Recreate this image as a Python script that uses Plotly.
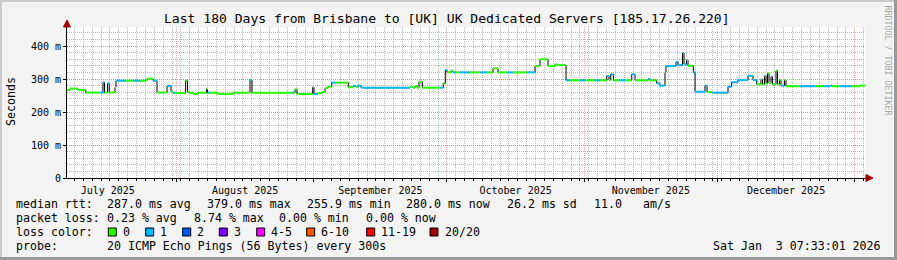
import plotly.graph_objects as go
import pandas as pd

# ---------------- data ----------------
window_start = "2025-07-07 07:33:01"
window_end = "2026-01-03 07:33:01"

# step segments of the median rtt: start (days since window start), value (ms), lost pings
seg_day = [0.00, 0.68, 2.48, 4.22, 7.44, 8.12, 8.46, 9.14, 9.54, 10.83,
           11.05, 13.31, 14.89, 16.47, 18.05, 19.40, 20.30, 22.56, 23.46, 23.91,
           24.36, 26.77, 27.18, 27.52, 28.42, 29.55, 31.47, 31.69, 32.26, 33.83,
           37.44, 41.28, 41.73, 50.75, 51.20, 51.43, 51.88, 55.42, 55.72, 56.62,
           57.52, 58.20, 58.87, 59.71, 60.68, 63.45, 64.51, 65.19, 65.64, 66.32,
           66.77, 77.37, 78.05, 78.50, 78.95, 79.40, 80.14, 84.14, 84.88, 85.33,
           85.71, 86.62, 87.07, 87.74, 88.65, 90.90, 93.16, 94.74, 96.09, 97.22,
           99.25, 100.60, 103.76, 105.56, 106.69, 108.50, 110.08, 110.53, 112.56, 113.46,
           115.72, 116.84, 119.10, 120.23, 121.74, 122.26, 122.64, 123.23, 124.74, 125.87,
           127.38, 128.12, 131.06, 131.50, 133.01, 133.76, 134.89, 135.11, 137.37, 137.82,
           138.83, 139.17, 139.74, 140.08, 141.27, 141.66, 143.91, 144.36, 145.49, 149.10,
           149.93, 151.35, 153.61, 154.74, 155.57, 156.54, 156.88, 157.33, 157.67, 158.01,
           158.35, 158.80, 159.14, 159.93, 160.27, 160.72, 161.06, 161.84, 162.18, 165.34,
           168.72, 170.53, 172.11, 172.56, 174.36, 176.84, 178.87]
seg_ms = [267, 271, 267, 259, 259, 290, 259, 287, 259, 275,
          295, 295, 295, 295, 301, 295, 259, 279, 262, 258,
          257, 295, 261, 258, 254.5, 258.6, 269, 258.6, 258.6, 255,
          258.6, 297, 258.6, 258.6, 258.6, 269, 254.5, 275, 254.5, 257,
          260.6, 272, 277, 289, 289, 275, 279, 275, 280, 274,
          273.7, 276, 273.7, 279, 274, 292, 273.7, 273.7, 287, 327,
          320, 325, 320, 320, 320, 320, 320, 320, 332, 320,
          320, 320, 320, 339, 359.6, 340, 344, 342, 296, 296,
          296, 296, 296, 296, 309, 297, 314, 296, 296, 296,
          314, 296, 300, 296, 287, 280, 320, 339, 352, 342,
          379, 345, 357, 340, 320, 261.6, 280, 260, 258.6, 276.7,
          290, 297, 310, 297, 284, 299, 284, 309, 286, 317,
          288, 307, 284, 325, 284, 296, 280, 297, 278, 278,
          278, 278, 280, 278, 278, 278, 280]
seg_loss = [0, 0, 0, 0, 1, 1, 0, 1, 0, 0,
            1, 0, 1, 0, 0, 1, 0, 1, 0, 1,
            0, 0, 0, 0, 0, 0, 0, 1, 0, 0,
            0, 1, 0, 1, 0, 0, 0, 0, 1, 0,
            0, 0, 0, 1, 0, 0, 1, 0, 1, 1,
            1, 0, 0, 0, 0, 0, 0, 1, 0, 1,
            0, 0, 1, 0, 1, 0, 1, 0, 0, 0,
            1, 0, 1, 0, 0, 0, 0, 0, 1, 0,
            1, 0, 1, 0, 1, 0, 1, 0, 1, 0,
            1, 0, 1, 0, 1, 1, 1, 1, 1, 1,
            1, 1, 0, 0, 1, 1, 1, 0, 1, 1,
            1, 1, 1, 1, 0, 0, 0, 1, 0, 0,
            0, 1, 0, 0, 0, 0, 1, 0, 0, 1,
            0, 1, 1, 0, 1, 0, 0]

loss_labels = ["0", "1", "2", "3", "4-5", "6-10", "11-19", "20/20"]
loss_colors = ["#26ff00", "#00b8ff", "#0059ff", "#7e00ff", "#ff00ff", "#ff5500", "#ff0000", "#a10000"]

y_tick_vals = [0, 100, 200, 300, 400]
y_tick_text = ["0", "100 m", "200 m", "300 m", "400 m"]

title_text = "Last 180 Days from Brisbane to [UK] UK Dedicated Servers [185.17.26.220]"
rtt_stats = [287.0, 379.0, 255.9, 280.0]      # avg, max, min, now (ms)
rtt_sd = 26.2
rtt_amps = 11.0
loss_stats = [0.23, 8.74, 0.00, 0.00]         # avg, max, min, now (%)
probe_text = "20 ICMP Echo Pings (56 Bytes) every 300s"
stamp_text = "Sat Jan  3 07:33:01 2026"

# ---------------- layout constants ----------------
FW, FH = 897, 260
L, R, T, B = 67, 32, 27, 82
W, H = FW - L - R, FH - T - B
MONO = "DejaVu Sans Mono"
NB = "\u00a0"


def px2x(px):
    return (px - L) / W


def py2y(py):
    return (T + H - py) / H


t0 = pd.Timestamp(window_start)
t_end = pd.Timestamp(window_end)
times = [t0 + pd.Timedelta(days=d) for d in seg_day] + [t_end]
vals = seg_ms + [seg_ms[-1]]

fig = go.Figure()

# black step line (transitions)
fig.add_trace(go.Scatter(x=times, y=vals, mode="lines", line=dict(color="#000000", width=1, shape="hv"),
                         hoverinfo="skip"))

# coloured horizontal pieces by loss count
for lvl in sorted(set(seg_loss)):
    xs, ys = [], []
    for i, l in enumerate(seg_loss):
        if l == lvl:
            xs += [times[i], times[i + 1], None]
            ys += [seg_ms[i], seg_ms[i], None]
    fig.add_trace(go.Scatter(x=xs, y=ys, mode="lines", line=dict(color=loss_colors[lvl], width=2),
                             hoverinfo="skip", connectgaps=False))

red_grid = "rgba(235,110,110,0.6)"
gray_grid = "rgba(160,160,160,0.75)"
dots = "1px,1px"

fig.update_layout(
    width=FW, height=FH,
    margin=dict(l=L, r=R, t=T, b=B, pad=0),
    paper_bgcolor="#f3f3f3", plot_bgcolor="#ffffff",
    showlegend=False,
    font=dict(family=MONO, size=10, color="#000000"),
    xaxis=dict(type="date", range=[t0, t_end], dtick="M1", tick0="2025-07-01",
               tickformat="%B %Y", ticklabelmode="period",
               showgrid=True, gridcolor=red_grid, griddash=dots, gridwidth=1,
               ticks="outside", ticklen=3, tickcolor="#000000",
               showline=True, linecolor="#000000", linewidth=1, zeroline=False,
               tickfont=dict(family=MONO, size=10, color="#000000"),
               minor=dict(dtick=2 * 86400000, tick0="2025-07-29", showgrid=True,
                          gridcolor=gray_grid, griddash=dots, gridwidth=1,
                          ticks="outside", ticklen=2, tickcolor="#000000")),
    yaxis=dict(range=[0, H / 0.33], tickvals=y_tick_vals, ticktext=y_tick_text,
               showgrid=True, gridcolor=red_grid, griddash=dots, gridwidth=1,
               ticks="outside", ticklen=3, tickcolor="#000000",
               showline=True, linecolor="#000000", linewidth=1, zeroline=False,
               tickfont=dict(family=MONO, size=10, color="#000000"),
               minor=dict(dtick=20, showgrid=True, gridcolor=gray_grid, griddash=dots, gridwidth=1)),
)

shapes = []
ann = []

# frame shading
shapes.append(dict(type="rect", xref="paper", yref="paper", x0=px2x(0), x1=px2x(FW), y0=py2y(0), y1=py2y(2),
                   fillcolor="#cbcbcb", line=dict(width=0), layer="above"))
shapes.append(dict(type="rect", xref="paper", yref="paper", x0=px2x(0), x1=px2x(2), y0=py2y(0), y1=py2y(FH),
                   fillcolor="#cbcbcb", line=dict(width=0), layer="above"))
shapes.append(dict(type="rect", xref="paper", yref="paper", x0=px2x(0), x1=px2x(FW), y0=py2y(FH - 3), y1=py2y(FH),
                   fillcolor="#999999", line=dict(width=0), layer="above"))
shapes.append(dict(type="rect", xref="paper", yref="paper", x0=px2x(FW - 3), x1=px2x(FW), y0=py2y(0), y1=py2y(FH),
                   fillcolor="#999999", line=dict(width=0), layer="above"))

# axis extensions and arrows
arrow_col = "#a00000"
shapes.append(dict(type="line", xref="paper", yref="paper", x0=0, x1=0, y0=1, y1=py2y(24),
                   line=dict(color="#000000", width=1)))
shapes.append(dict(type="line", xref="paper", yref="paper", x0=1, x1=px2x(868), y0=0, y1=0,
                   line=dict(color="#000000", width=1)))
shapes.append(dict(type="path", xref="paper", yref="paper",
                   path=f"M {px2x(L - 3.5)},{py2y(27)} L {px2x(L + 3.5)},{py2y(27)} L {px2x(L)},{py2y(20)} Z",
                   fillcolor=arrow_col, line=dict(color=arrow_col, width=1)))
shapes.append(dict(type="path", xref="paper", yref="paper",
                   path=f"M {px2x(866)},{py2y(174.5)} L {px2x(866)},{py2y(181.5)} L {px2x(873)},{py2y(178)} Z",
                   fillcolor=arrow_col, line=dict(color=arrow_col, width=1)))


def text(s, px, py, size=11.6, anchor="left", color="#000000", angle=0):
    off = {"left": -2, "right": 2, "center": 0}[anchor]
    ann.append(dict(text=s.replace(" ", NB), xref="paper", yref="paper",
                    x=px2x(px + off), y=py2y(py), xanchor=anchor, yanchor="middle",
                    showarrow=False, textangle=angle,
                    font=dict(family=MONO, size=size, color=color)))


# title, axis label, watermark
text(title_text, 446.5, 19, size=13.05, anchor="center")
text("Seconds", 11, 102, size=11.6, anchor="center", angle=-90)
text("RRDTOOL / TOBI OETIKER", 887.5, 60, size=8.3, anchor="center", color="#a8a8a8", angle=90)

# legend rows
row_y = [204, 218, 232, 246]
text("median rtt:", 16, row_y[0])
rtt_x = [107.3, 206.7, 306.7, 406.2]
for v, lab, x in zip(rtt_stats, ["avg", "max", "min", "now"], rtt_x):
    text(f"{v:.1f} ms {lab}", x, row_y[0])
text(f"{rtt_sd:.1f} ms sd", 506.5, row_y[0])
text(f"{rtt_amps:.1f}", 594, row_y[0])
text("am/s", 642.7, row_y[0])

text("packet loss:", 16, row_y[1])
loss_x = [107.3, 194, 279.3, 365.7]
for v, lab, x in zip(loss_stats, ["avg", "max", "min", "now"], loss_x):
    text(f"{v:.2f} % {lab}", x, row_y[1])

text("loss color:", 16, row_y[2])
sw_x = [108.3, 145.7, 182.7, 219.3, 256.7, 306.7, 366.7, 430]
for lab, col, x in zip(loss_labels, loss_colors, sw_x):
    shapes.append(dict(type="rect", xref="paper", yref="paper", x0=px2x(x), x1=px2x(x + 8),
                       y0=py2y(row_y[2] + 4), y1=py2y(row_y[2] - 4),
                       fillcolor=col, line=dict(color="#000000", width=1)))
    text(lab, x + 14.7, row_y[2])

text("probe:", 16, row_y[3])
text(probe_text, 107.3, row_y[3])
text(stamp_text, 881, row_y[3], anchor="right")

fig.update_layout(shapes=shapes, annotations=ann)
fig.write_html("out.html")
